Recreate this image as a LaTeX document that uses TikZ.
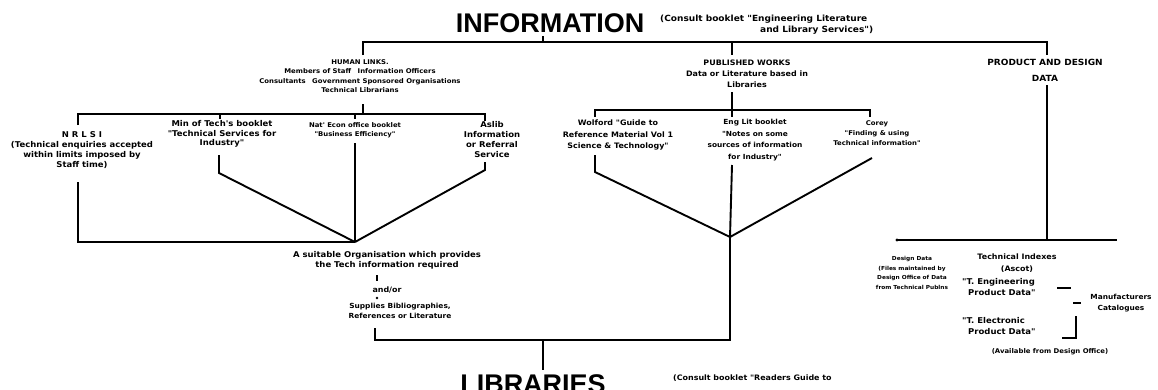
\documentclass[tikz,border=0pt]{standalone}
\usepackage{fontspec}
\setmainfont{DejaVu Sans}
\newfontfamily\handfont[FakeStretch=1.06]{DejaVu Sans Bold}
\newfontfamily\titlefont{Liberation Sans}
\newcommand\handsz[2]{\handfont\fontsize{#1}{#2}\selectfont}
\begin{document}
\begin{tikzpicture}[x=1pt,y=-1pt,
  conn/.style={line width=1.9pt},
  thin conn/.style={line width=1.2pt},
  hand/.style={align=center, inner sep=0pt},
  bigtitle/.style={inner sep=0pt, font=\titlefont\bfseries\fontsize{27}{27}\selectfont},
]
\useasboundingbox (0,0) rectangle (1158,389);
\clip (0,0) rectangle (1158,389);
\fill[white] (0,0) rectangle (1158,389);

% titles
\node[bigtitle] (info) at (550,23) {INFORMATION};
\node[hand, font=\handsz{8.5}{11}, align=left, anchor=west] (infonote) at (660,25) {(Consult booklet "Engineering Literature\\\hspace*{100pt}and Library Services")};

% level 1
\node[hand, font=\handsz{6.5}{9.5}] (human) at (360,76) {HUMAN LINKS.\\Members of Staff\quad Information Officers\\Consultants\quad Government Sponsored Organisations\\Technical Librarians};
\node[hand, font=\handsz{7.5}{11}] (published) at (747,74) {PUBLISHED WORKS\\Data or Literature based in\\Libraries};
\node[hand, font=\handsz{8.5}{16}] (product) at (1045,70) {PRODUCT AND DESIGN\\DATA};

% group 1
\node[hand, font=\handsz{8}{10}] (nrlsi) at (82,150) {N R L S I\\(Technical enquiries accepted\\within limits imposed by\\Staff time)};
\node[hand, font=\handsz{8}{9.5}] (mintech) at (222,134) {Min of Tech's booklet\\"Technical Services for\\Industry"};
\node[hand, font=\handsz{6.5}{9.5}] (natecon) at (355,130) {Nat' Econ office booklet\\"Business Efficiency"};
\node[hand, font=\handsz{8}{10}] (aslib) at (492,140) {Aslib\\Information\\or Referral\\Service};

% group 2
\node[hand, font=\handsz{7.5}{11.5}] (wolford) at (618,135) {Wolford "Guide to\\Reference Material Vol 1\\Science \& Technology"};
\node[hand, font=\handsz{7}{11.5}] (englit) at (755,140) {Eng Lit booklet\\"Notes on some\\sources of information\\for Industry"};
\node[hand, font=\handsz{6.5}{10}] (corey) at (877,133) {Corey\\"Finding \& using\\Technical information"};

% joins
\node[hand, font=\handsz{8}{10}] (suitable) at (387,260) {A suitable Organisation which provides\\the Tech information required};
\node[hand, font=\handsz{7.5}{9}] (andor) at (387,290) {and/or};
\node[hand, font=\handsz{7}{10}] (supplies) at (400,311) {Supplies Bibliographies,\\References or Literature};

\node[bigtitle, anchor=north] (libraries) at (533,374) {LIBRARIES};
\node[hand, font=\handsz{7.5}{10}, anchor=north west] (libnote) at (673,375) {(Consult booklet "Readers Guide to};

% group 3
\node[hand, font=\handsz{5.5}{9.5}] (designdata) at (912,273) {Design Data\\(Files maintained by\\Design Office of Data\\from Technical Publns};
\node[hand, font=\handsz{7.5}{12}] (techidx) at (1017,263) {Technical Indexes\\(Ascot)};
\node[hand, font=\handsz{8}{11}, align=left, anchor=west] (engdata) at (962,287) {"T. Engineering\\\hspace*{6pt}Product Data"};
\node[hand, font=\handsz{8}{11}, align=left, anchor=west] (elecdata) at (962,326) {"T. Electronic\\\hspace*{6pt}Product Data"};
\node[hand, font=\handsz{7}{11}] (manuf) at (1121,303) {Manufacturers\\Catalogues};
\node[hand, font=\handsz{6.5}{9}] (available) at (1050,352) {(Available from Design Office)};

% ---------- connectors ----------
% top bus
\coordinate (tL) at (363,42);
\coordinate (tM) at (732,42);
\coordinate (tR) at (1047,42);
\coordinate (tI) at (543,42);
\coordinate (hT) at (363,55);
\coordinate (pubT) at (732,55);
\coordinate (prodT) at (1047,55);
\draw[conn] (hT) -- (tL) -- (tR) -- (prodT);
\draw[conn] (tM) -- (pubT);
\draw[conn, shorten >=3pt] (tI) -- (tI |- info.south);

% group 1
\coordinate (hBt) at (363,104);
\coordinate (hB) at (363,114);
\coordinate (b1L) at (78,114);
\coordinate (b1R) at (485,114);
\coordinate (nrT) at (78,125);
\coordinate (asT) at (485,121);
\coordinate (b1a) at (220,114);
\coordinate (mtT) at (220,119);
\coordinate (b1b) at (355,114);
\coordinate (neT) at (355,119);
\draw[conn] (hBt) -- (hB);
\draw[conn] (nrT) -- (b1L) -- (b1R) -- (asT);
\draw[conn] (b1a) -- (mtT);
\draw[conn] (b1b) -- (neT);
\coordinate (ap1) at (355,242);
\coordinate (nrB) at (78,182);
\coordinate (nrC) at (78,242);
\draw[conn] (nrB) -- (nrC) -- (ap1);
\coordinate (mtB) at (219,155);
\coordinate (mtC) at (219,173);
\draw[conn] (mtB) -- (mtC) -- (ap1);
\coordinate (neB) at (355,143);
\draw[conn] (neB) -- (ap1);
\coordinate (asB) at (485,162);
\coordinate (asC) at (485,170);
\draw[conn] (asB) -- (asC) -- (ap1);

% group 2
\coordinate (pubB) at (732,92);
\coordinate (b2M) at (732,110);
\coordinate (b2L) at (595,110);
\coordinate (b2R) at (870,110);
\coordinate (woT) at (595,117);
\coordinate (elT) at (732,117);
\coordinate (coT) at (870,117);
\draw[conn] (pubB) -- (b2M);
\draw[conn] (woT) -- (b2L) -- (b2R) -- (coT);
\draw[conn] (b2M) -- (elT);
\coordinate (ap2) at (730,237);
\coordinate (woB) at (595,155);
\coordinate (woC) at (595,172);
\draw[conn] (woB) -- (woC) -- (ap2);
\coordinate (elB) at (732,165);
\draw[conn] (elB) -- (ap2);
\coordinate (coB) at (872,158);
\draw[conn] (coB) -- (ap2);

% merge to libraries
\coordinate (spL) at (375,328);
\coordinate (spC) at (375,340);
\coordinate (jn) at (543,340);
\coordinate (ap2C) at (730,340);
\coordinate (libT) at (543,370);
\draw[conn] (spL) -- (spC) -- (ap2C) -- (ap2);
\draw[conn] (jn) -- (libT);

% and/or marks
\coordinate (ao1) at (377,275);
\coordinate (ao2) at (377,281);
\coordinate (aoDot) at (377,298);
\draw[thin conn] (ao1) -- (ao2);
\fill (aoDot) circle (1.3);

% group 3
\coordinate (prB) at (1047,85);
\coordinate (b3M) at (1047,240);
\coordinate (b3L) at (897,240);
\coordinate (b3R) at (1117,240);
\draw[conn] (prB) -- (b3M);
\draw[conn] (b3L) -- (b3R);
\fill (b3L) circle (1.6);

% manufacturers connectors
\coordinate (engE) at (1057,288);
\coordinate (engE2) at (1071,288);
\draw[thin conn] (engE) -- (engE2);
\coordinate (mfW) at (1073,303);
\coordinate (mfW2) at (1081,303);
\draw[thin conn] (mfW) -- (mfW2);
\coordinate (elE) at (1062,338);
\coordinate (elC) at (1076,338);
\coordinate (elU) at (1076,316);
\draw[thin conn] (elE) -- (elC) -- (elU);
\end{tikzpicture}
\end{document}
